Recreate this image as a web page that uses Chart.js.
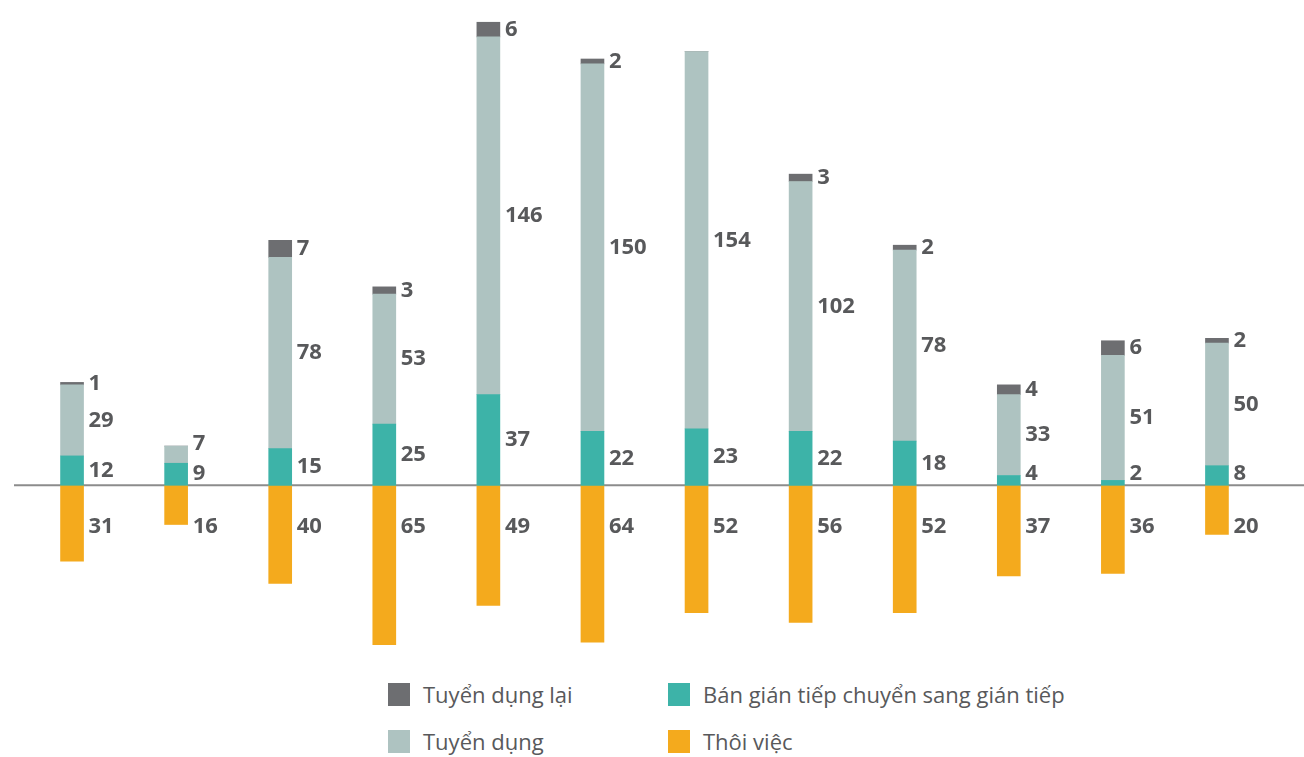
<!DOCTYPE html>
<html>
<head>
<meta charset="utf-8">
<script src="https://cdn.jsdelivr.net/npm/chart.js@4.4.1/dist/chart.umd.min.js"></script>
<style>
  body { margin: 0; background: #fff; font-family: "Open Sans", sans-serif; }
  #wrap { position: relative; width: 1304px; height: 660px; }
  #legend { position: absolute; left: 388px; top: 682px; display: grid;
            grid-template-columns: 280px 440px; row-gap: 23px; }
  .item { display: flex; align-items: center; color: #58595b; font-size: 22px; height: 24px; }
  .box { width: 22px; height: 23px; margin-right: 13px; flex: none; }
</style>
</head>
<body>
<div id="wrap"><canvas id="staffChart"></canvas></div>
<div id="legend"></div>
<script>
const months = ["1", "2", "3", "4", "5", "6", "7", "8", "9", "10", "11", "12"];

const banGianTiep = [12, 9, 15, 25, 37, 22, 23, 22, 18, 4, 2, 8];
const tuyenDung = [29, 7, 78, 53, 146, 150, 154, 102, 78, 33, 51, 50];
const tuyenDungLai = [1, 0, 7, 3, 6, 2, 0, 3, 2, 4, 6, 2];
const thoiViec = [31, 16, 40, 65, 49, 64, 52, 56, 52, 37, 36, 20];

const yMin = -66;
const yMax = 194;
const negLabelAt = -17;

const ctx = document.getElementById("staffChart").getContext("2d");

const chartData = {
    labels: months,
    datasets: [
    {
        label: "Bán gián tiếp chuyển sang gián tiếp",
        data: banGianTiep,
        backgroundColor: "#3db3a8",
        stack: "s"
    },
    {
        label: "Tuyển dụng",
        data: tuyenDung,
        backgroundColor: "#aec3c1",
        stack: "s"
    },
    {
        label: "Tuyển dụng lại",
        data: tuyenDungLai,
        backgroundColor: "#6d6e71",
        stack: "s"
    },
    {
        label: "Thôi việc",
        data: thoiViec.map(v => -v),
        backgroundColor: "#f4aa1d",
        stack: "s"
    }
    ]
};

// zero line across the whole width, behind the bars
const zeroLine = {
    id: "zeroLine",
    beforeDatasetsDraw(chart) {
    const y = chart.scales.y.getPixelForValue(0);
    const c = chart.ctx;
    c.save();
    c.strokeStyle = "#8c8c8c";
    c.lineWidth = 2;
    c.beginPath();
    c.moveTo(14, y);
    c.lineTo(chart.width, y);
    c.stroke();
    c.restore();
    }
};

// value labels to the right of each segment
const valueLabels = {
    id: "valueLabels",
    afterDatasetsDraw(chart) {
    const c = chart.ctx;
    const zeroY = chart.scales.y.getPixelForValue(0);
    c.save();
    c.font = "bold 22px 'Open Sans', sans-serif";
    c.fillStyle = "#58595b";
    c.textAlign = "left";
    c.textBaseline = "middle";
    months.forEach((m, i) => {
        let prevY = null;
        chart.data.datasets.forEach((ds, d) => {
        const v = ds.data[i];
        if (!v) return;
        const bar = chart.getDatasetMeta(d).data[i];
        const x = bar.x + bar.width / 2 + 5;
        let y;
        if (v < 0) {
            y = chart.scales.y.getPixelForValue(negLabelAt);
        } else {
            y = (bar.y + bar.base) / 2;
            y = prevY === null ? Math.min(y, zeroY - 12) : Math.min(y, prevY - 30);
            prevY = y;
        }
        c.fillText(String(Math.abs(v)), x, y);
        });
    });
    c.restore();
    }
};

const chart = new Chart(ctx, {
    type: "bar",
    data: chartData,
    options: {
    responsive: true,
    maintainAspectRatio: false,
    animation: false,
    layout: { padding: { top: 10, bottom: 13, left: 20, right: 35 } },
    plugins: {
        legend: { display: false },
        tooltip: { enabled: false }
    },
    datasets: { bar: { barThickness: 23 } },
    scales: {
        x: { display: false, stacked: true },
        y: { display: false, stacked: true, min: yMin, max: yMax }
    }
    },
    plugins: [zeroLine, valueLabels]
});

const legendOrder = [2, 0, 1, 3];
const legend = document.getElementById("legend");
legendOrder.forEach(d => {
    const ds = chartData.datasets[d];
    const item = document.createElement("div");
    item.className = "item";
    item.innerHTML = '<span class="box" style="background:' + ds.backgroundColor + '"></span>' + ds.label;
    legend.appendChild(item);
});
</script>
</body>
</html>
